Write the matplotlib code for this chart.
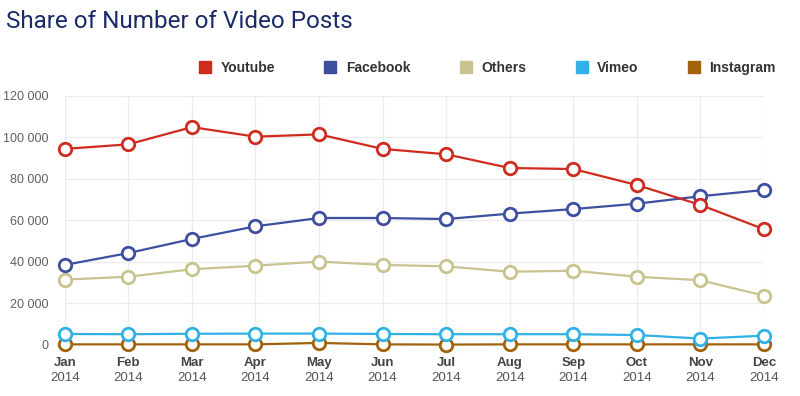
import matplotlib
matplotlib.use('Agg')
import matplotlib.pyplot as plt
import matplotlib.ticker as ticker
import matplotlib.transforms as mtransforms
from matplotlib.lines import Line2D

months = ['Jan', 'Feb', 'Mar', 'Apr', 'May', 'Jun',
          'Jul', 'Aug', 'Sep', 'Oct', 'Nov', 'Dec']
year = '2014'

youtube = [94500, 96700, 105000, 100400, 101500, 94500,
           91900, 85300, 84800, 77100, 67500, 55800]
facebook = [38600, 44300, 51100, 57200, 61200, 61200,
            60700, 63300, 65500, 68100, 71700, 74700]
others = [31500, 32900, 36500, 38200, 40200, 38600,
          37900, 35300, 35800, 32900, 31200, 23800]
vimeo = [5300, 5200, 5400, 5500, 5500, 5300,
         5200, 5200, 5200, 4800, 3100, 4500]
instagram = [300, 300, 300, 300, 1000, 300,
             200, 300, 300, 300, 300, 300]

series = [('Youtube', youtube, '#cf2b1f'),
          ('Facebook', facebook, '#3d4f9f'),
          ('Others', others, '#c9c38f'),
          ('Vimeo', vimeo, '#31b1e6'),
          ('Instagram', instagram, '#a1620b')]

plt.rcParams['font.family'] = ['Liberation Sans', 'DejaVu Sans']

fig = plt.figure(figsize=(8, 3.96), dpi=100)
ax = fig.add_axes([0.081, 0.1288, 0.874, 0.6288])

x = list(range(len(months)))
# draw bottom series first so Youtube is on top
for name, vals, col in series[::-1]:
    ax.plot(x, vals, color=col, lw=1.6, marker='o', ms=9,
            mfc='white', mec=col, mew=2, zorder=3, clip_on=False)

ax.set_xlim(0, 11)
ax.set_ylim(0, 120000)
ax.set_yticks(range(0, 120001, 20000))
ax.yaxis.set_major_formatter(ticker.FuncFormatter(
    lambda v, p: '{:,}'.format(int(v)).replace(',', ' ')))
ax.set_xticks(x)
ax.set_xticklabels(months, fontweight='bold', color='#444444', fontsize=9.5)
ax.tick_params(axis='x', length=0, pad=9)
ax.tick_params(axis='y', length=0, pad=12, labelcolor='#606060', labelsize=9)

# year line under each month
trans = mtransforms.blended_transform_factory(ax.transData, fig.transFigure)
for xi in x:
    ax.text(xi, 1 - 378 / 396, year, transform=trans, ha='center', va='center',
            color='#555555', fontsize=9.5)

ax.grid(True, color='#ececec', lw=1, zorder=0)
for s in ax.spines.values():
    s.set_visible(False)

fig.text(0.008, 0.945, 'Share of Number of Video Posts', fontsize=17.5,
         color='#1b2a6b', family='Roboto', va='center')

handles = [Line2D([], [], ls='none', marker='s', ms=8, color=c)
           for _, _, c in series]
fig.legend(handles, [n for n, _, _ in series], ncol=5, loc='center right',
           bbox_to_anchor=(0.985, 0.828), frameon=False, handlelength=0.8,
           handletextpad=0.7, columnspacing=3.6,
           prop={'weight': 'bold', 'size': 10}, labelcolor='#333333')

fig.savefig('out.png', dpi=100)
